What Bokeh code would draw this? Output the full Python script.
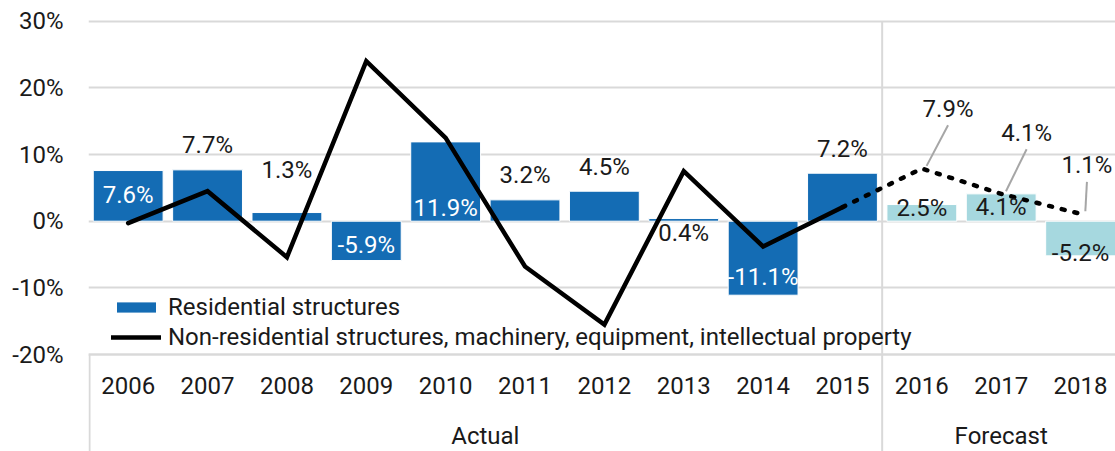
from bokeh.plotting import figure
from bokeh.models import (FixedTicker, PrintfTickFormatter, LinearAxis, Range1d,
                          Legend, LegendItem, ColumnDataSource)
from bokeh.core.properties import value
from bokeh.embed import file_html
from bokeh.resources import INLINE

# ---------------- data ----------------
years = ["2006", "2007", "2008", "2009", "2010", "2011", "2012",
         "2013", "2014", "2015", "2016", "2017", "2018"]
groups = ["Actual", "Forecast"]
n_actual = 10  # 2006-2015 actual, 2016-2018 forecast

residential = [7.6, 7.7, 1.3, -5.9, 11.9, 3.2, 4.5, 0.4, -11.1, 7.2, 2.5, 4.1, -5.2]
non_residential = [-0.3, 4.5, -5.4, 24.0, 12.5, -6.8, -15.5, 7.5, -3.8, 2.1, 7.9, 4.1, 1.1]

# ---------------- styling ----------------
FONT = "Roboto"
FS_AX = "24px"
FS_LAB = "24px"
TXT = "#1a1a1a"
GRID = "#d9d9d9"
C_ACTUAL = "#146cb4"
C_FORECAST = "#a6d8df"

# label placement (data units) for bar labels, and their colours
bar_label_y = [3.9, 11.4, 7.7, -3.5, 2.0, 6.9, 8.1, -1.8, -8.3, 10.8, 2.0, 2.1, -4.7]
bar_label_color = ["white", TXT, TXT, "white", "white", TXT, TXT, TXT, "white", TXT, TXT, TXT, TXT]
# line labels for forecast years
line_label_dx = [0.33, 0.32, 0.08]
line_label_y = [16.9, 13.3, 8.4]

n = len(years)
xs = [i + 0.5 for i in range(n)]

p = figure(width=1115, height=451,
           x_range=Range1d(0, 12.94), y_range=Range1d(-34.55, 33.11),
           output_backend="svg", toolbar_location=None,
           min_border_left=88, min_border_right=0, min_border_top=0, min_border_bottom=0)
p.outline_line_color = None
p.background_fill_color = "white"

# y axis
yticks = [-20, -10, 0, 10, 20, 30]
p.yaxis.ticker = FixedTicker(ticks=yticks)
p.yaxis.formatter = PrintfTickFormatter(format="%d%%")
p.yaxis.axis_line_color = None
p.yaxis.major_tick_line_color = None
p.yaxis.minor_tick_line_color = None
p.yaxis.major_tick_out = 0
p.yaxis.major_label_standoff = 25
p.yaxis.major_label_text_font = FONT
p.yaxis.major_label_text_font_size = FS_AX
p.yaxis.major_label_text_color = TXT

p.ygrid.ticker = FixedTicker(ticks=yticks)
p.ygrid.grid_line_color = GRID
p.ygrid.grid_line_width = 2
p.xgrid.visible = False

# x axis (years)
xa = p.xaxis[0]
xa.ticker = FixedTicker(ticks=xs)
xa.major_label_overrides = {x: y for x, y in zip(xs, years)}
xa.fixed_location = yticks[0]
xa.axis_line_color = GRID
xa.axis_line_width = 2
xa.major_tick_line_color = None
xa.minor_tick_line_color = None
xa.major_tick_out = 0
xa.major_label_standoff = 22
xa.major_label_text_font = FONT
xa.major_label_text_font_size = FS_AX
xa.major_label_text_color = TXT

# group axis (Actual / Forecast)
gpos = [n_actual / 2, (n_actual + n) / 2]
ga = LinearAxis(ticker=FixedTicker(ticks=gpos),
                major_label_overrides={g: t for g, t in zip(gpos, groups)},
                fixed_location=yticks[0])
ga.axis_line_color = None
ga.major_tick_line_color = None
ga.minor_tick_line_color = None
ga.major_tick_out = 0
ga.major_label_standoff = 67
ga.major_label_text_font = FONT
ga.major_label_text_font_size = FS_AX
ga.major_label_text_color = TXT
p.add_layout(ga, "below")

# separator lines
ybot = p.y_range.start
p.segment(x0=[0.013, n_actual], y0=[ybot, ybot], x1=[0.013, n_actual], y1=[yticks[0], yticks[-1]],
          line_color=GRID, line_width=2)

# bars
src_a = ColumnDataSource(dict(x=xs[:n_actual], top=residential[:n_actual]))
src_f = ColumnDataSource(dict(x=xs[n_actual:], top=residential[n_actual:]))
bars_a = p.vbar(x="x", top="top", bottom=0, width=0.88, source=src_a,
                fill_color=C_ACTUAL, line_color="white", line_width=1)
bars_f = p.vbar(x="x", top="top", bottom=0, width=0.88, source=src_f,
                fill_color=C_FORECAST, line_color="white", line_width=1)

# line
line_solid = p.line(xs[:n_actual], non_residential[:n_actual], line_color="black",
                    line_width=4.5, line_join="miter", line_cap="round")
p.line(xs[n_actual - 1:], non_residential[n_actual - 1:], line_color="black",
       line_width=4.5, line_dash="3 10", line_cap="round")

# bar labels
p.text(x=xs, y=bar_label_y, text=[f"{v:.1f}%" for v in residential],
       text_color=bar_label_color, text_font=value(FONT), text_font_size=FS_LAB,
       text_align="center", text_baseline="middle")

# line labels (forecast) with leader lines
fx = xs[n_actual:]
fv = non_residential[n_actual:]
lx = [x + d for x, d in zip(fx, line_label_dx)]
p.segment(x0=lx, y0=[y - 2.5 for y in line_label_y],
          x1=[x + 0.06 for x in fx], y1=[v + 0.4 for v in fv],
          line_color="#a6a6a6", line_width=2)
p.text(x=lx, y=line_label_y, text=[f"{v:.1f}%" for v in fv],
       text_color=TXT, text_font=value(FONT), text_font_size=FS_LAB,
       text_align="center", text_baseline="middle")

legend = Legend(items=[
    LegendItem(label="Residential structures", renderers=[bars_a]),
    LegendItem(label="Non-residential structures, machinery, equipment, intellectual property",
               renderers=[line_solid]),
], location=(23, 100), glyph_width=50, glyph_height=14, label_standoff=7,
    padding=0, margin=0, spacing=2, label_height=28,
    background_fill_alpha=0, border_line_color=None,
    label_text_font=FONT, label_text_font_size=FS_LAB, label_text_color=TXT)
p.add_layout(legend)

open("out.html", "w").write(file_html(p, INLINE))
